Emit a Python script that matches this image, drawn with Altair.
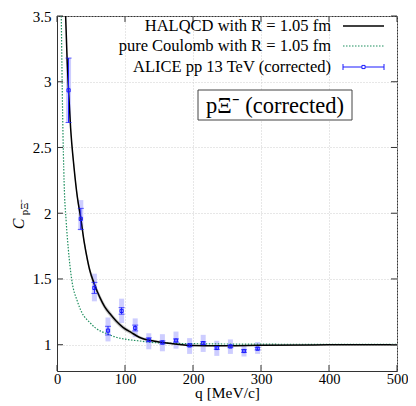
import altair as alt
import pandas as pd

# ---- data ----
q_data = [17, 35, 55, 75, 95, 115, 135, 155, 175, 195, 215, 235, 255, 275, 295]
c_data = [2.935, 1.957, 1.432, 1.107, 1.257, 1.127, 1.037, 1.017, 1.032, 0.995, 1.012, 0.975, 0.987, 0.952, 0.970]
stat_err = [0.245, 0.08, 0.042, 0.033, 0.025, 0.022, 0.015, 0.012, 0.012, 0.010, 0.010, 0.010, 0.010, 0.010, 0.010]
sys_lo = [2.69, 1.87, 1.33, 1.025, 1.165, 1.057, 0.965, 0.95, 0.97, 0.93, 0.945, 0.915, 0.93, 0.91, 0.93]
sys_hi = [3.18, 2.10, 1.54, 1.207, 1.35, 1.20, 1.087, 1.08, 1.10, 1.05, 1.075, 1.03, 1.04, 0.99, 1.02]

q_hal = [12.7, 15, 17, 20, 25, 30, 35, 40, 45, 48, 55, 63, 70, 78, 87, 97, 110, 121, 146, 171, 200, 250, 300, 400, 500]
c_hal = [3.5, 3.15, 2.93, 2.65, 2.35, 2.12, 1.96, 1.78, 1.64, 1.57, 1.46, 1.36, 1.29, 1.235, 1.18, 1.132, 1.09, 1.057, 1.025, 1.007, 0.993, 0.992, 0.995, 0.999, 1.0]
hal_band = [0.05, 0.045, 0.04, 0.035, 0.035, 0.032, 0.03, 0.03, 0.028, 0.028, 0.026, 0.025, 0.024, 0.022, 0.02, 0.018, 0.015, 0.012, 0.009, 0.007, 0.005, 0.004, 0.003, 0.002, 0.001]

q_coul = [6.3, 7.3, 8.3, 10.5, 13.6, 16.6, 21.5, 30, 36, 48, 56, 75, 85, 97, 119, 146, 200, 300, 400, 500]
c_coul = [3.5, 3.1, 2.75, 2.23, 1.93, 1.73, 1.5, 1.33, 1.25, 1.17, 1.13, 1.08, 1.06, 1.045, 1.03, 1.015, 1.008, 1.004, 1.003, 1.002]

x_ticks = [0, 100, 200, 300, 400, 500]
y_ticks = [1, 1.5, 2, 2.5, 3, 3.5]

legend_labels = ["HALQCD with R = 1.05 fm", "pure Coulomb with R = 1.05 fm", "ALICE pp 13 TeV (corrected)"]
box_label = "pΞ⁻ (corrected)"

# ---- tables ----
df_pts = pd.DataFrame({"q": q_data, "c": c_data,
                       "lo": [c - e for c, e in zip(c_data, stat_err)],
                       "hi": [c + e for c, e in zip(c_data, stat_err)],
                       "slo": sys_lo, "shi": sys_hi})
df_hal = pd.DataFrame({"q": q_hal, "c": c_hal,
                       "lo": [c - b for c, b in zip(c_hal, hal_band)],
                       "hi": [c + b for c, b in zip(c_hal, hal_band)]})
df_coul = pd.DataFrame({"q": q_coul, "c": c_coul})
df_xt = pd.DataFrame({"q": x_ticks})
df_yt = pd.DataFrame({"c": y_ticks})

W, H = 340, 355
FONT = "Liberation Serif"
BLUE = "#1a1aff"
GREEN = "#1f8f5f"

xscale = alt.Scale(domain=[0, 500], nice=False, zero=False)
yscale = alt.Scale(domain=[0.8, 3.5], nice=False, zero=False)
xaxis = alt.Axis(values=x_ticks, ticks=False, grid=True, gridDash=[1, 2], gridColor="#cfcfcf",
                 domainColor="#333", labelFont=FONT, labelFontSize=14.5, labelColor="black",
                 labelPadding=1, labelFlush=False, title="q [MeV/c]", titleFont=FONT, titleFontSize=15.5,
                 titleFontWeight="normal", titleColor="black", titlePadding=0)
yaxis = alt.Axis(values=y_ticks, ticks=False, grid=True, gridDash=[1, 2], gridColor="#cfcfcf",
                 domainColor="#333", labelFont=FONT, labelFontSize=15, labelColor="black",
                 labelPadding=6, labelFlush=False, labelExpr="'' + datum.value", title=None)


def X(f="q"):
    return alt.X(f"{f}:Q", scale=xscale, axis=xaxis)


def Y(f="c"):
    return alt.Y(f"{f}:Q", scale=yscale, axis=yaxis)


band = alt.Chart(df_hal).mark_area(color="#a8a8a8", opacity=0.6, clip=True, interpolate="monotone").encode(
    x=X(), y=Y("lo"), y2="hi:Q")
hal = alt.Chart(df_hal).mark_line(color="black", strokeWidth=1.5, clip=True, interpolate="monotone").encode(
    x=X(), y=Y())
coul = alt.Chart(df_coul).mark_line(color=GREEN, strokeWidth=1.2, strokeDash=[1.5, 1.5], clip=True,
                                    interpolate="monotone").encode(x=X(), y=Y())
sysb = alt.Chart(df_pts).mark_rule(color="#b8b8ff", strokeWidth=5, opacity=0.7).encode(
    x=X(), y=Y("slo"), y2="shi:Q")
err = alt.Chart(df_pts).mark_rule(color=BLUE, strokeWidth=1).encode(x=X(), y=Y("lo"), y2="hi:Q")
cap_lo = alt.Chart(df_pts).mark_tick(color=BLUE, orient="horizontal", size=6, thickness=1).encode(x=X(), y=Y("lo"))
cap_hi = alt.Chart(df_pts).mark_tick(color=BLUE, orient="horizontal", size=6, thickness=1).encode(x=X(), y=Y("hi"))
pts = alt.Chart(df_pts).mark_point(shape="square", filled=False, color=BLUE, size=10, strokeWidth=1, opacity=1).encode(
    x=X(), y=Y())

# inward ticks on all four sides
yt_l = alt.Chart(df_yt).mark_rule(color="#333").encode(y=Y(), x=alt.value(0), x2=alt.value(6))
yt_r = alt.Chart(df_yt).mark_rule(color="#333").encode(y=Y(), x=alt.value(W - 6), x2=alt.value(W))
xt_b = alt.Chart(df_xt).mark_rule(color="#333").encode(x=X(), y=alt.value(H - 6), y2=alt.value(H))
xt_t = alt.Chart(df_xt).mark_rule(color="#333").encode(x=X(), y=alt.value(0), y2=alt.value(6))

# legend
df_leg = pd.DataFrame({"t": legend_labels, "yy": [10, 30, 51]})
leg_text = alt.Chart(df_leg).mark_text(align="right", baseline="middle", font=FONT, fontSize=16.5,
                                       color="black").encode(text="t:N", x=alt.value(274), y=alt.Y("yy:Q", scale=None))
leg_hal = alt.Chart(df_leg.iloc[[0]]).mark_rule(color="black", strokeWidth=1.5).encode(
    x=alt.value(286), x2=alt.value(327), y=alt.value(10))
leg_coul = alt.Chart(df_leg.iloc[[1]]).mark_rule(color=GREEN, strokeWidth=1.2, strokeDash=[1.5, 1.5]).encode(
    x=alt.value(286), x2=alt.value(327), y=alt.value(30))
leg_err = alt.Chart(df_leg.iloc[[2]]).mark_rule(color=BLUE, strokeWidth=1).encode(
    x=alt.value(286), x2=alt.value(327), y=alt.value(51))
leg_c1 = alt.Chart(df_leg.iloc[[2]]).mark_rule(color=BLUE, strokeWidth=1).encode(
    x=alt.value(286), y=alt.value(48), y2=alt.value(54))
leg_c2 = alt.Chart(df_leg.iloc[[2]]).mark_rule(color=BLUE, strokeWidth=1).encode(
    x=alt.value(327), y=alt.value(48), y2=alt.value(54))
leg_pt = alt.Chart(df_leg.iloc[[2]]).mark_point(shape="square", filled=True, fill="white", stroke=BLUE,
                                                size=10, strokeWidth=1, opacity=1).encode(
    x=alt.value(306.5), y=alt.value(51))

# boxed label
df_box = pd.DataFrame({"t": [box_label]})
box = alt.Chart(df_box).mark_rect(fill="white", stroke="#444", strokeWidth=1).encode(
    x=alt.value(141), x2=alt.value(295), y=alt.value(74), y2=alt.value(104))
box_text = alt.Chart(df_box).mark_text(font=FONT, fontSize=22.5, color="black", baseline="middle",
                                       align="center").encode(text="t:N", x=alt.value(218), y=alt.value(89.5))

# y-axis title C_{pΞ-}
df_yl = pd.DataFrame({"t": ["C", "pΞ⁻"]})
ytitle_c = alt.Chart(df_yl.iloc[[0]]).mark_text(font=FONT, fontSize=16, fontStyle="italic", angle=270,
                                                color="black", baseline="middle").encode(
    text="t:N", x=alt.value(-38), y=alt.value(208))
ytitle_s = alt.Chart(df_yl.iloc[[1]]).mark_text(font=FONT, fontSize=11, angle=270,
                                                color="black", baseline="middle").encode(
    text="t:N", x=alt.value(-32), y=alt.value(191))

chart = alt.layer(
    sysb, band, coul, hal, err, cap_lo, cap_hi, pts,
    yt_l, yt_r, xt_b, xt_t,
    leg_text, leg_hal, leg_coul, leg_err, leg_c1, leg_c2, leg_pt,
    box, box_text, ytitle_c, ytitle_s,
).properties(
    width=W, height=H,
    autosize=alt.AutoSizeParams(type="none"),
    padding={"left": 49, "top": 8, "right": 11, "bottom": 34},
).configure_view(stroke="#333", strokeWidth=1).resolve_scale(y="shared")

chart.save("out.html", embed_options={"renderer": "svg", "actions": False})
